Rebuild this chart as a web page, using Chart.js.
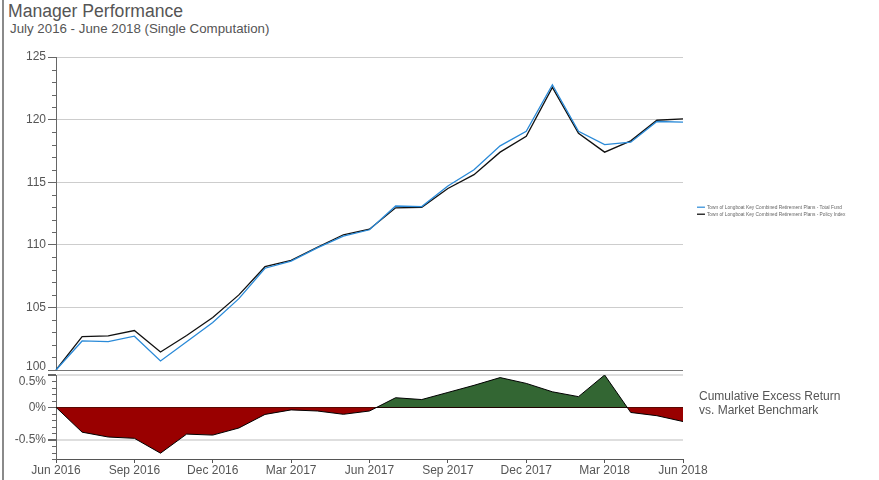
<!DOCTYPE html>
<html>
<head>
<meta charset="utf-8">
<script src="https://cdn.jsdelivr.net/npm/chart.js@4/dist/chart.umd.min.js"></script>
<style>
  html, body { margin: 0; padding: 0; background: #fff; }
  body { width: 879px; height: 480px; position: relative; overflow: hidden; font-family: 'Liberation Sans', Arial, sans-serif; color: #555; }
  .abs { position: absolute; }
  canvas { position: absolute; left: 0; top: 0; }
  #border { left: 2px; top: 0; width: 2px; height: 480px; background: #8a8a8a; }
  #title { left: 8px; top: 1px; font-size: 17.6px; white-space: nowrap; }
  #subtitle { left: 10px; top: 21px; font-size: 13.3px; white-space: nowrap; }
  .leg { left: 697px; font-size: 12px; white-space: nowrap; line-height: 14px; color: #666; transform-origin: 0 50%; }
  .leg span { display: inline-block; width: 20px; height: 3px; vertical-align: middle; margin-right: 5px; }
  #side { left: 699px; top: 390px; font-size: 12px; line-height: 13.5px; white-space: nowrap; }
</style>
</head>
<body>
<div id="border" class="abs"></div>
<div id="title" class="abs">Manager Performance</div>
<div id="subtitle" class="abs">July 2016 - June 2018 (Single Computation)</div>
<canvas id="top" width="879" height="480"></canvas>
<canvas id="bottom" width="879" height="480"></canvas>
<div id="leg1" class="abs leg" style="top:200px"><span style="background:#2a8ad8"></span>Town of Longboat Key Combined Retirement Plans - Total Fund</div>
<div id="leg2" class="abs leg" style="top:207px"><span style="background:#000"></span>Town of Longboat Key Combined Retirement Plans - Policy Index</div>
<div id="side" class="abs">Cumulative Excess Return<br>vs. Market Benchmark</div>
<script>
// ---- data ----
const months = ['Jun 2016','Jul 2016','Aug 2016','Sep 2016','Oct 2016','Nov 2016','Dec 2016','Jan 2017','Feb 2017','Mar 2017','Apr 2017','May 2017','Jun 2017','Jul 2017','Aug 2017','Sep 2017','Oct 2017','Nov 2017','Dec 2017','Jan 2018','Feb 2018','Mar 2018','Apr 2018','May 2018','Jun 2018'];
const totalFund = [100, 102.32, 102.27, 102.7, 100.72, 102.25, 103.8, 105.7, 108.13, 108.7, 109.75, 110.7, 111.2, 113.1, 113.05, 114.7, 116.0, 117.9, 119.07, 122.78, 119.07, 118.0, 118.2, 119.85, 119.8];
const policyIndex = [100, 102.67, 102.72, 103.15, 101.44, 102.75, 104.2, 106.0, 108.25, 108.75, 109.8, 110.8, 111.25, 112.95, 113.0, 114.5, 115.6, 117.4, 118.67, 122.57, 118.9, 117.4, 118.3, 119.95, 120.05];
const excessReturn = [0, -0.385, -0.46, -0.48, -0.71, -0.415, -0.43, -0.32, -0.11, -0.04, -0.057, -0.108, -0.057, 0.148, 0.12, 0.23, 0.34, 0.46, 0.37, 0.24, 0.165, 0.50, -0.08, -0.13, -0.22];
const seriesNames = ['Town of Longboat Key Combined Retirement Plans - Total Fund', 'Town of Longboat Key Combined Retirement Plans - Policy Index'];
const topTicks = [100, 105, 110, 115, 120, 125];
const bottomTicks = [-0.5, 0, 0.5];
const bottomTickLabels = ['-0.5%', '0%', '0.5%'];

// tiny legend: scale to the original's width
(function () {
  const l1 = document.getElementById('leg1'), l2 = document.getElementById('leg2');
  const k = 145 / l1.offsetWidth;
  l1.style.transform = 'scale(' + k + ')';
  l2.style.transform = 'scale(' + k + ')';
})();

const FONT = { family: "'Liberation Sans', Arial, sans-serif", size: 12 };
const TXT = '#555';
const CLEAR = 'rgba(0,0,0,0)';

const minorTicks = {
  id: 'minorTicks',
  afterDraw(chart, args, opts) {
    const s = chart.scales.y, ctx = chart.ctx;
    ctx.save();
    ctx.strokeStyle = '#666';
    ctx.lineWidth = 1;
    const n = Math.round((s.max - s.min) / opts.step);
    for (let k = 0; k <= n; k++) {
      const v = s.min + k * opts.step;
      const r = v / opts.major;
      if (Math.abs(r - Math.round(r)) < 1e-6) continue;
      const y = Math.round(s.getPixelForValue(v)) + 0.5;
      ctx.beginPath();
      ctx.moveTo(s.right - 4, y);
      ctx.lineTo(s.right, y);
      ctx.stroke();
    }
    ctx.restore();
  }
};

// label nudges (edge labels pushed inward, as in the original layout)
const TOP_NUDGE = 0.28;   // value units
const BOT_NUDGE = -0.11;  // value units

new Chart(document.getElementById('top'), {
  type: 'line',
  data: {
    labels: months,
    datasets: [
      { label: seriesNames[0], data: totalFund, borderColor: '#2a8ad8', borderWidth: 1.3, pointRadius: 0, tension: 0, fill: false },
      { label: seriesNames[1], data: policyIndex, borderColor: '#111', borderWidth: 1.3, pointRadius: 0, tension: 0, fill: false }
    ]
  },
  options: {
    responsive: false, animation: false, devicePixelRatio: 1,
    layout: { padding: { left: 0, top: 57, right: 196, bottom: 110 } },
    plugins: { legend: { display: false }, tooltip: { enabled: false }, minorTicks: { step: 1, major: 5 } },
    scales: {
      x: { display: false, offset: false },
      y: {
        min: 100, max: 125,
        afterFit(s) { s.width = 56; },
        afterBuildTicks(s) {
          const t = [];
          topTicks.forEach((v, i) => {
            if (i === 0) { t.push({ value: v, lab: '' }); t.push({ value: v + TOP_NUDGE, lab: String(v), ghost: true }); }
            else t.push({ value: v, lab: String(v) });
          });
          s.ticks = t;
        },
        ticks: { autoSkip: false, color: TXT, font: FONT, padding: 2, callback: (v, i, ts) => ts[i].lab },
        border: { color: '#666', width: 1 },
        grid: {
          color: c => c.tick && c.tick.ghost ? CLEAR : (c.tick && c.tick.value === 100 ? '#777' : '#cdcdcd'),
          tickColor: c => c.tick && c.tick.ghost ? CLEAR : '#666',
          tickLength: 8, lineWidth: 1
        }
      }
    }
  },
  plugins: [minorTicks]
});

new Chart(document.getElementById('bottom'), {
  type: 'line',
  data: {
    labels: months,
    datasets: [{
      label: 'Cumulative Excess Return vs. Market Benchmark',
      data: excessReturn, borderColor: '#000', borderWidth: 1, pointRadius: 0, tension: 0,
      fill: { target: { value: 0 }, above: '#336633', below: '#990000' }
    }]
  },
  options: {
    responsive: false, animation: false, devicePixelRatio: 1,
    layout: { padding: { left: 0, top: 375, right: 196, bottom: 0 } },
    plugins: { legend: { display: false }, tooltip: { enabled: false }, minorTicks: { step: 0.1, major: 0.5 } },
    scales: {
      x: {
        offset: false,
        afterFit(s) { s.height = 21; },
        ticks: {
          autoSkip: false, maxRotation: 0, color: TXT, font: FONT, padding: 0,
          callback: (v, i) => (i % 3 === 0 ? months[i] : '')
        },
        border: { color: '#555', width: 1 },
        grid: {
          drawOnChartArea: false, tickLength: 4,
          tickColor: c => (c.index % 3 === 0 ? '#555' : CLEAR)
        }
      },
      y: {
        min: -0.8, max: 0.5,
        afterFit(s) { s.width = 56; },
        afterBuildTicks(s) {
          const t = [];
          bottomTicks.forEach((v, i) => {
            if (i === bottomTicks.length - 1) { t.push({ value: v + BOT_NUDGE, lab: bottomTickLabels[i], ghost: true }); t.push({ value: v, lab: '' }); }
            else t.push({ value: v, lab: bottomTickLabels[i] });
          });
          s.ticks = t;
        },
        ticks: { autoSkip: false, color: TXT, font: FONT, padding: 2, callback: (v, i, ts) => ts[i].lab },
        border: { color: '#666', width: 1 },
        grid: {
          color: c => (c.tick && c.tick.ghost ? CLEAR : (c.tick && Math.abs(c.tick.value) < 1e-9 ? '#000' : '#dedede')),
          lineWidth: c => (c.tick && Math.abs(c.tick.value) < 1e-9 ? 1 : 2),
          tickColor: c => (c.tick && c.tick.ghost ? CLEAR : '#666'),
          tickLength: 8
        }
      }
    }
  },
  plugins: [minorTicks]
});
</script>
</body>
</html>
